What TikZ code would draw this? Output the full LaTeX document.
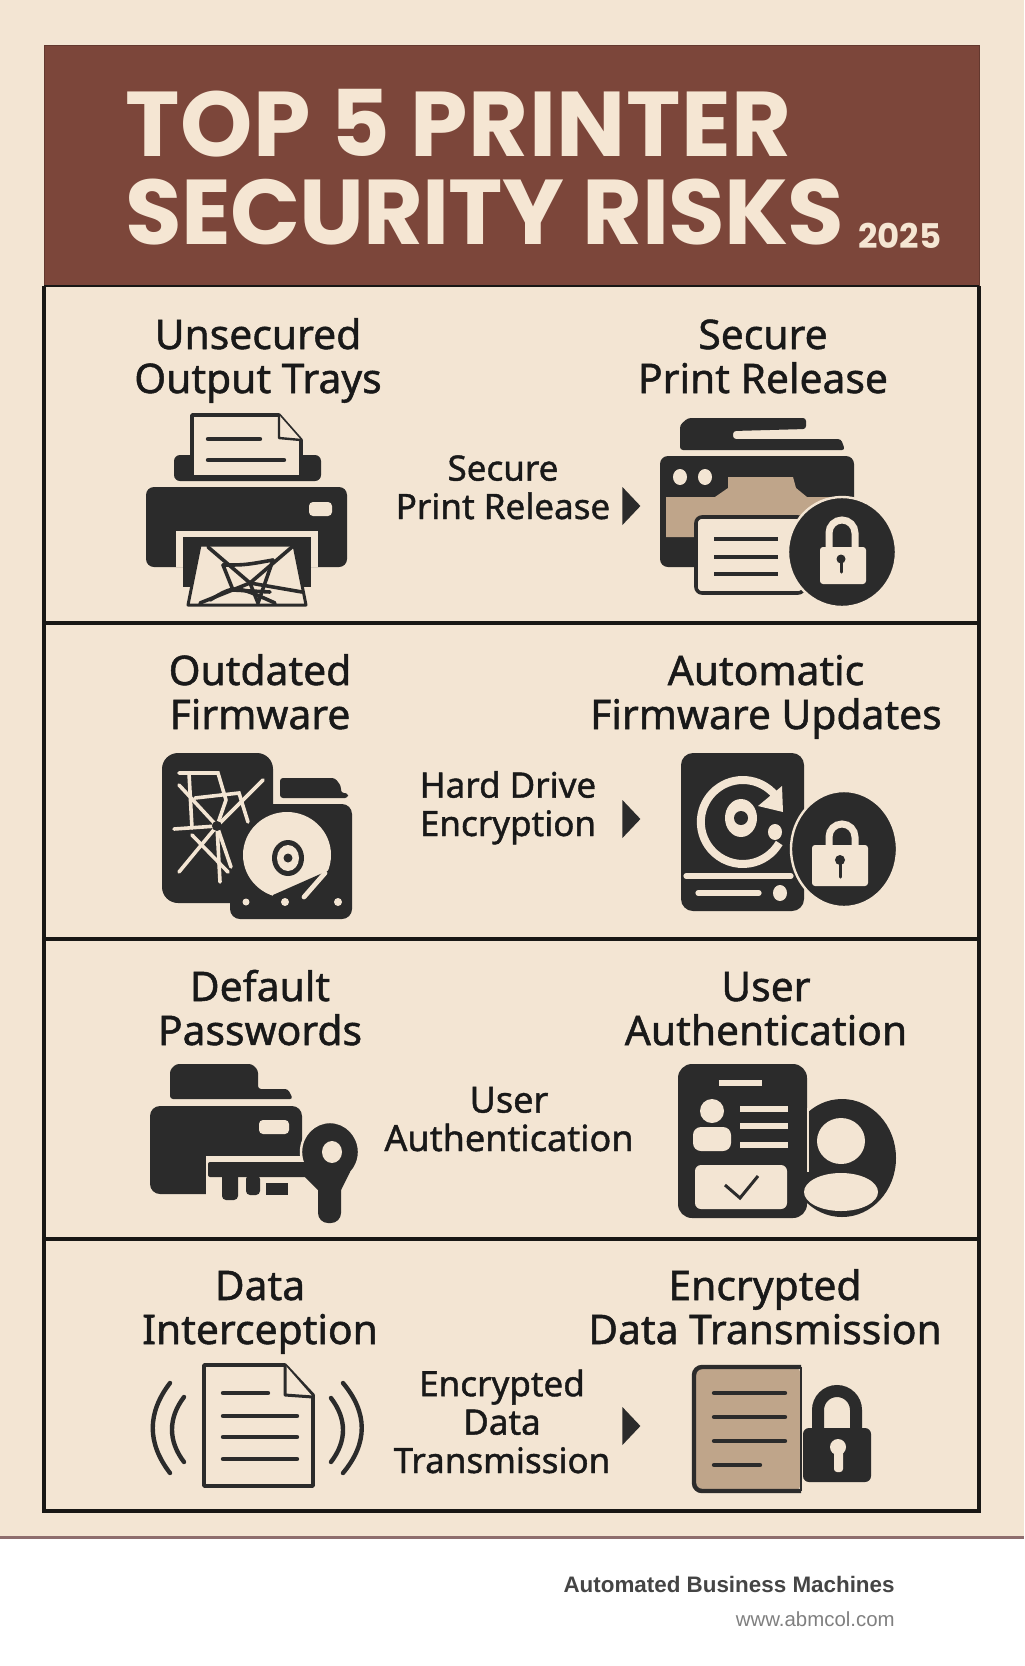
\documentclass[tikz,border=0pt]{standalone}
\usepackage{fontspec}
\setmainfont{Noto Sans}
\newfontfamily\bodyfont[FakeBold=1.2]{Noto Sans}
\newfontfamily\titlefont[BoldFont={Poppins Bold}]{Poppins}
\newfontfamily\footfont{Liberation Sans}
\usepackage{xcolor}
\usetikzlibrary{shapes.geometric}

\definecolor{paper}{HTML}{F3E5D3}
\definecolor{inkdark}{HTML}{2B2B2B}
\definecolor{headbrown}{HTML}{7C463A}
\definecolor{tan}{HTML}{BFA58A}
\definecolor{titlecream}{HTML}{F5E6D3}
\definecolor{footrule}{HTML}{8E6E6E}

\tikzset{
	ink/.style={fill=inkdark},
	cut/.style={fill=paper},
	halo/.style={fill=inkdark,draw=paper,line width=1.2pt},
	sheet/.style={fill=paper,draw=inkdark,line width=1.8pt,line join=round},
	darkline/.style={draw=inkdark,line width=2.2pt,line cap=round},
	paperline/.style={draw=paper,line width=2.6pt,line cap=round},
	webline/.style={draw=inkdark,line width=1.8pt,line cap=round},
	shackle/.style={draw=paper,line width=3.5pt},
	rowrule/.style={draw=black!90!paper,line width=1.6pt},
	bigtext/.style={align=center,anchor=base,text=black!90,inner sep=0pt,font=\bodyfont\fontsize{20.4}{22}\selectfont},
	midtext/.style={align=center,anchor=base,text=black!90,inner sep=0pt,font=\bodyfont\fontsize{17.5}{19.2}\selectfont},
	pointer/.style={shape=isosceles triangle,isosceles triangle stretches,fill=inkdark,inner sep=0pt,
		minimum width=19pt,minimum height=9pt,anchor=lower side},
}

\begin{document}
\begin{tikzpicture}[x=0.5pt,y=-0.5pt]
	\useasboundingbox (0,0) rectangle (1024,1666);
	\fill[paper] (0,0) rectangle (1024,1537);
	\fill[white] (0,1537) rectangle (1024,1666);
	\draw[draw=footrule,line width=1.5pt] (0,1537.5) -- (1024,1537.5);
	% frame and header
	\draw[fill=headbrown,draw=headbrown!80!black,line width=0.5pt] (44,45) rectangle (979,286);
	\draw[draw=black!90!paper,line width=0.9pt] (44,286) -- (979,286);
	\draw[rowrule] (44,286) -- (44,1511) -- (979,1511) -- (979,286);
	\draw[rowrule] (44,623) -- (979,623);
	\draw[rowrule] (44,939) -- (979,939);
	\draw[rowrule] (44,1239) -- (979,1239);
	\node[anchor=base west,align=left,inner sep=0pt,text=titlecream,font=\titlefont\bfseries\fontsize{46}{44}\selectfont] (title) at (125,244)
		{\addfontfeature{LetterSpace=0.6}TOP 5 PRINTER\\\addfontfeature{LetterSpace=-0.9}SECURITY RISKS};
	\node[anchor=base west,inner sep=0pt,text=titlecream,font=\titlefont\bfseries\fontsize{17}{20}\selectfont] (year) at (858,248) {2025};
	%
	% row labels
	\node[bigtext] (riskA) at (258,393) {Unsecured\\Output Trays};
	\node[bigtext] (fixA) at (763,393) {Secure\\Print Release};
	\node[midtext] (midA) at (503,519) {Secure\\Print Release};
	\node[pointer] (tipA) at (622,506) {};
	\node[bigtext] (riskB) at (260,729) {Outdated\\Firmware};
	\node[bigtext] (fixB) at (766,729) {Automatic\\Firmware Updates};
	\node[midtext] (midB) at (508,836) {Hard Drive\\Encryption};
	\node[pointer] (tipB) at (622,819) {};
	\node[bigtext] (riskC) at (260,1045) {Default\\Passwords};
	\node[bigtext] (fixC) at (766,1045) {User\\Authentication};
	\node[midtext,font=\bodyfont\fontsize{18}{19.2}\selectfont] (midC) at (509,1151) {User\\Authentication};
	\node[bigtext] (riskD) at (260,1344) {Data\\Interception};
	\node[bigtext] (fixD) at (765,1344) {Encrypted\\Data Transmission};
	\node[midtext] (midD) at (502,1473) {Encrypted\\Data\\Transmission};
	\node[pointer] (tipD) at (622,1426) {};
	%
	% icon: printer with web
	\fill[ink,rounded corners=3pt] (174,455) rectangle (321,481);
	\draw[sheet] (192,415) -- (279,415) -- (301,440) -- (301,477) -- (192,477) -- cycle;
	\draw[sheet,line width=1.2pt] (279,415) -- (279,438) -- (301,440);
	\draw[darkline] (208,439) -- (260,439);
	\draw[darkline] (208,460) -- (284,460);
	\fill[ink,rounded corners=4pt] (146,487) rectangle (347,567);
	\fill[cut,rounded corners=2pt] (309,502) rectangle (332,516);
	\fill[cut] (176,531) rectangle (318,567);
	\fill[ink] (183,537) rectangle (311,587);
	\draw[sheet,line width=1.5pt] (200,545) -- (294,545) -- (306,605) -- (188,605) -- cycle;
	\draw[webline] (208,547) -- (250,583) -- (292,547);
	\draw[webline] (200,603) -- (250,583) -- (258,603);
	\draw[webline] (250,583) -- (302,592);
	\draw[webline] (223,565) .. controls (245,565) .. (273,560);
	\draw[webline] (273,560) -- (258,603);
	\draw[webline] (223,565) -- (233,590) -- (270,592);
	\draw[webline] (210,600) .. controls (235,585) .. (275,603);
	%
	% icon: printer with padlock
	\fill[ink,rounded corners=1.5pt] (680,450) -- (680,425) -- (688,418) -- (806,418) -- (806,429) -- (733,431) -- (733,439) -- (841,439) -- (845,450) -- cycle;
	\fill[ink,rounded corners=4pt] (660,456) rectangle (854,567);
	\fill[tan] (666,537) -- (666,497) -- (715,497) -- (728,488) -- (728,477) -- (793,477) -- (796,488) -- (807,497) -- (851,497) -- (851,537) -- cycle;
	\fill[cut] (680,477) ellipse [x radius=7,y radius=8];
	\fill[cut] (705,477) ellipse [x radius=7,y radius=8];
	\draw[sheet,rounded corners=3pt] (696,517) rectangle (804,593);
	\draw[darkline,line cap=butt] (714,539) -- (778,539);
	\draw[darkline,line cap=butt] (714,557) -- (778,557);
	\draw[darkline,line cap=butt] (714,574) -- (778,574);
	\draw[halo] (842,552) ellipse [x radius=54,y radius=55];
	\draw[shackle] (829,550) -- (829,533) arc[start angle=180,end angle=360,radius=13] -- (855,550);
	\fill[cut,rounded corners=1.5pt] (820,547) rectangle (866,584);
	\fill[ink] (841,559) circle [radius=4.5];
	\draw[darkline,line width=1.5pt] (841,560) -- (841,572);
	%
	% icon: web and hard drive
	\fill[ink,rounded corners=8pt] (162,753) rectangle (273,903);
	\fill[ink,rounded corners=1.5pt] (280,798) -- (280,778) -- (335,778) -- (341,786) -- (341,793) -- (348,793) -- (348,798) -- cycle;
	\fill[ink,rounded corners=5pt] (230,804) rectangle (352,919);
	\fill[ink] (245,790) rectangle (273,830);
	\draw[paperline,line width=1.8pt] (179,773) -- (218,773) -- (226,800);
	\draw[paperline,line width=1.8pt] (179,785) -- (217,826) -- (179,872);
	\draw[paperline,line width=1.8pt] (263,780) -- (217,826);
	\draw[paperline,line width=1.8pt] (226,800) -- (217,826) -- (220,882);
	\draw[paperline,line width=1.8pt] (189,773) -- (192,828);
	\draw[paperline,line width=1.8pt] (174,829) -- (217,826) -- (231,867);
	\draw[paperline,line width=1.8pt] (195,798) -- (239,793) -- (248,822);
	\draw[paperline,line width=1.8pt] (192,835) -- (228,872);
	\fill[ink] (217,826) circle [radius=5];
	\fill[cut] (287,855) ellipse [x radius=44,y radius=43];
	\fill[ink] (288,858) ellipse [x radius=16,y radius=18];
	\fill[cut] (288,858) ellipse [x radius=11,y radius=13];
	\fill[ink] (288,858) circle [radius=4.5];
	\fill[ink] (334,868) -- (273,895) -- (273,915) -- (340,915) -- cycle;
	\draw[paperline,line width=2.4pt] (325,873) -- (304,897);
	\fill[cut] (246,902) circle [radius=3.5];
	\fill[cut] (285,902) circle [radius=4];
	\fill[cut] (338,902) circle [radius=4];
	%
	% icon: firmware update with padlock
	\fill[ink,rounded corners=6pt] (681,753) rectangle (804,911);
	\draw[halo] (844,849) ellipse [x radius=53,y radius=58];
	\draw[paperline,line width=4pt,line cap=butt] (775,795) arc[start angle=-40,end angle=-330,radius=42];
	\fill[cut] (782,786) -- (783,812) -- (758,806) -- cycle;
	\fill[cut] (741,818) ellipse [x radius=16,y radius=19];
	\fill[ink] (741,818) circle [radius=7];
	\fill[cut] (775,832) ellipse [x radius=7,y radius=8];
	\draw[paperline] (686,876) -- (791,876);
	\draw[paperline] (698,893) -- (759,893);
	\fill[cut] (780,893) ellipse [x radius=7,y radius=8];
	\draw[shackle] (829,848) -- (829,837) arc[start angle=180,end angle=360,radius=13] -- (855,848);
	\fill[cut,rounded corners=1.5pt] (812,845) rectangle (868,886);
	\fill[ink] (840,860) circle [radius=5];
	\draw[darkline,line width=1.5pt] (840,862) -- (840,877);
	%
	% icon: printer with key
	\fill[ink,rounded corners=1.5pt] (170,1099) -- (170,1070) -- (176,1064) -- (252,1064) -- (258,1070) -- (258,1089) -- (288,1089) -- (293,1099) -- cycle;
	\fill[ink,rounded corners=5pt] (150,1106) rectangle (302,1194);
	\fill[cut,rounded corners=2pt] (259,1120) rectangle (289,1134);
	\fill[cut] (206,1156) rectangle (304,1200);
	\fill[ink] (266,1183) rectangle (288,1195);
	\fill[ink,rounded corners=2pt] (246,1175) rectangle (260,1195);
	\fill[ink,rounded corners=2pt] (222,1170) rectangle (238,1200);
	\draw[halo] (330,1152) ellipse [x radius=29,y radius=30];
	\fill[ink,rounded corners=1pt] (208,1162) rectangle (310,1177);
	\fill[ink] (305,1177) -- (318,1190) -- (341,1190) -- (350,1172) -- (310,1165) -- cycle;
	\fill[ink,rounded corners=5pt] (318,1175) rectangle (341,1223);
	\fill[cut] (332,1152) ellipse [x radius=10,y radius=11];
	%
	% icon: identity card with person
	\fill[ink] (842,1158) ellipse [x radius=54,y radius=59];
	\fill[ink,rounded corners=7pt] (678,1064) rectangle (807,1218);
	\draw[draw=paper,line width=0.8pt] (808,1108) -- (808,1172);
	\fill[cut] (841,1141) ellipse [x radius=24,y radius=23];
	\fill[cut] (841,1192) ellipse [x radius=37,y radius=19];
	\fill[cut] (719,1080) rectangle (762,1086);
	\fill[cut] (712,1111) ellipse [x radius=12,y radius=12];
	\fill[cut,rounded corners=4pt] (693,1127) rectangle (731,1151);
	\fill[cut] (740,1106) rectangle (788,1112);
	\fill[cut] (740,1123) rectangle (788,1129);
	\fill[cut] (740,1142) rectangle (788,1148);
	\fill[cut,rounded corners=3pt] (695,1165) rectangle (787,1209);
	\draw[draw=inkdark,line width=1.5pt] (725,1185) -- (740,1198) -- (758,1176);
	%
	% icon: document with signal waves
	\draw[sheet] (204,1365) -- (285,1365) -- (313,1395) -- (313,1486) -- (204,1486) -- cycle;
	\draw[sheet,line width=1.5pt] (285,1365) -- (285,1395) -- (313,1397);
	\draw[darkline] (223,1393) -- (268,1393);
	\draw[darkline] (223,1416) -- (297,1416);
	\draw[darkline] (223,1437) -- (297,1437);
	\draw[darkline] (223,1459) -- (297,1459);
	\draw[darkline] (170,1383) .. controls (147,1413) and (147,1443) .. (170,1473);
	\draw[darkline] (184,1397) .. controls (168,1418) and (168,1441) .. (184,1462);
	\draw[darkline] (331,1398) .. controls (347,1419) and (347,1441) .. (331,1462);
	\draw[darkline] (343,1383) .. controls (368,1413) and (368,1443) .. (343,1473);
	%
	% icon: encrypted document
	\fill[tan,rounded corners=4pt] (694,1367) rectangle (801,1491);
	\draw[draw=inkdark,line width=2.2pt,rounded corners=4pt] (801,1367) -- (694,1367) -- (694,1491) -- (801,1491);
	\draw[draw=inkdark,line width=0.8pt] (801,1367) -- (801,1491);
	\draw[darkline] (714,1393) -- (785,1393);
	\draw[darkline] (714,1417) -- (785,1417);
	\draw[darkline] (714,1441) -- (785,1441);
	\draw[darkline] (714,1465) -- (760,1465);
	\draw[draw=inkdark,line width=6pt] (818,1432) -- (818,1410) arc[start angle=180,end angle=360,radius=19] -- (856,1432);
	\fill[ink,rounded corners=3pt] (803,1428) rectangle (871,1482);
	\fill[cut] (838,1447) circle [radius=8];
	\fill[cut,rounded corners=1.5pt] (834,1447) rectangle (843,1472);
	%
	% footer
	\node[anchor=base east,inner sep=0pt,text=black!73,font=\footfont\bfseries\fontsize{11.2}{14}\selectfont] (company) at (895,1592) {Automated Business Machines};
	\node[anchor=base east,inner sep=0pt,text=black!50,font=\footfont\fontsize{10.2}{12}\selectfont] (website) at (895,1626) {www.abmcol.com};
\end{tikzpicture}
\end{document}
